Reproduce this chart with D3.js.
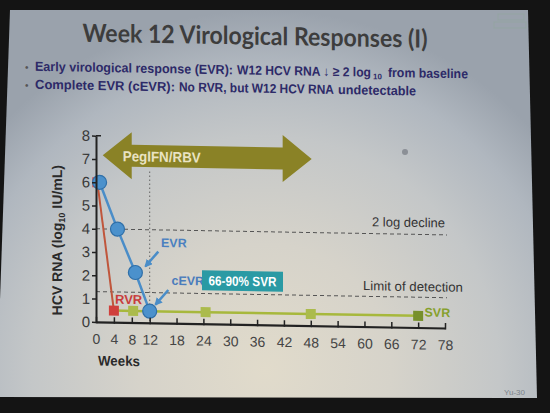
<!DOCTYPE html>
<html><head><meta charset="utf-8">
<script src="https://cdn.jsdelivr.net/npm/d3@7"></script>
<style>html,body{margin:0;padding:0;background:#141414;}svg{display:block;}</style>
</head><body>
<svg id="c" width="550" height="413"></svg>
<script>
// ---- data ----
const titleText = "Week 12 Virological Responses (I)";
const bullet1 = ["Early virological response (EVR):", "W12 HCV RNA \u2193 \u2265 2 log", "10", "from baseline"];
const bullet2 = ["Complete EVR (cEVR):", "No RVR, but W12 HCV RNA", "undetectable"];
const xTicks = [0, 4, 8, 12, 18, 24, 30, 36, 42, 48, 54, 60, 66, 72, 78];
const yTicks = [0, 1, 2, 3, 4, 5, 6, 7, 8];
const blueWeeks = [0.8, 4.8, 8.8, 12];
const blueValues = [6, 4, 2.15, 0.5];
const redWeeks = [0.3, 4];
const redValues = [6, 0.5];
const greenWeeks = [4, 8.3, 24.5, 48, 72];
const greenValues = [0.5, 0.5, 0.5, 0.5, 0.5];
const thresholdLabels = ["2 log decline", "Limit of detection"];
const thresholdValues = [4, 1.3];
const treatmentSpan = [1.5, 48.2];
const treatmentLevel = 7.16;
const treatmentLabel = "PegIFN/RBV";
const markerWeek = 12;
const markerTop = 6.5;

const svg = d3.select("#c");
const defs = svg.append("defs");
const rg = defs.append("radialGradient").attr("id", "bg")
  .attr("gradientUnits", "userSpaceOnUse").attr("cx", 265).attr("cy", 370).attr("r", 360);
[[0, "#e1dbcb"], [0.35, "#d6d3ca"], [0.65, "#c4c7c8"], [0.85, "#b0b7bf"], [1, "#9aa2ac"]]
  .forEach(s => rg.append("stop").attr("offset", s[0]).attr("stop-color", s[1]));
defs.append("marker").attr("id", "ah").attr("viewBox", "0 0 10 10").attr("refX", 8).attr("refY", 5)
  .attr("markerWidth", 3.2).attr("markerHeight", 3.2).attr("orient", "auto")
  .append("path").attr("d", "M0,0 L10,5 L0,10 Z").attr("fill", "#4a8dc8");

// slide
svg.append("rect").attr("width", 550).attr("height", 413).attr("fill", "#141414");
svg.append("path").attr("d", "M10,10 L528,10 L537,398 L0,397 L0,300 Z").attr("fill", "url(#bg)");

const g = svg.append("g").attr("transform", "translate(275,210) skewY(1) translate(-275,-210)");

// small details
svg.append("circle").attr("cx", 405).attr("cy", 152).attr("r", 3).attr("fill", "#5a5e68").attr("opacity", 0.5);
svg.append("text").attr("x", 525).attr("y", 395).attr("text-anchor", "end")
  .attr("font-family", "Liberation Sans").attr("font-size", 8).attr("fill", "#7c838b").text("Yu-30");
const logo = svg.append("g").attr("opacity", 0.55);
logo.append("rect").attr("x", 498).attr("y", 14).attr("width", 26).attr("height", 6).attr("fill", "none").attr("stroke", "#8fa69a");
logo.append("rect").attr("x", 494).attr("y", 22).attr("width", 32).attr("height", 6).attr("fill", "none").attr("stroke", "#8fa69a");

// title
g.append("text").attr("x", 255).attr("y", 45).attr("text-anchor", "middle")
  .attr("font-family", "Lato").attr("font-weight", "bold").attr("font-size", 25)
  .attr("fill", "#3d3d3d").attr("textLength", 345).attr("lengthAdjust", "spacingAndGlyphs").text(titleText);

// bullets (split in chunks; layout kept separate from the text)
const bt = (t, xx, yy, size, len) => {
  const e = g.append("text").attr("x", xx).attr("y", yy).attr("font-family", "Liberation Sans")
    .attr("font-weight", "bold").attr("font-size", size).attr("fill", "#2d2a68").text(t);
  if (len) e.attr("textLength", len).attr("lengthAdjust", "spacingAndGlyphs");
  return e;
};
[75, 93].forEach(yy => g.append("text").attr("x", 25).attr("y", yy).attr("font-family", "Liberation Sans")
  .attr("font-size", 10).attr("fill", "#555").text("\u2022"));
const l1 = [[35, 75, 13, 198], [237, 75, 13, 134], [373, 77.5, 8, null], [388, 75, 13, 80]];
const l2 = [[35, 93, 13, 140], [179, 93, 13, 155], [338, 93, 13, 78]];
bullet1.forEach((t, i) => bt(t, ...l1[i]));
bullet2.forEach((t, i) => bt(t, ...l2[i]));

// scales
const x = d3.scaleLinear().domain([0, 78]).range([96, 445]);
const y = d3.scaleLinear().domain([0, 8]).range([325, 138.8]);

// treatment arrow
{
  const xl = x(treatmentSpan[0]), xr = x(treatmentSpan[1]), cy = y(treatmentLevel);
  const h = 29, bh = 11, hh = 23.5;
  const pts = [[xl, cy], [xl + h, cy - hh], [xl + h, cy - bh], [xr - h, cy - bh], [xr - h, cy - hh], [xr, cy],
    [xr - h, cy + hh], [xr - h, cy + bh], [xl + h, cy + bh], [xl + h, cy + hh]];
  g.append("path").attr("d", d3.line()(pts) + "Z").attr("fill", "#8a8226");
  g.append("text").attr("x", xl + 20).attr("y", cy + 5.5).attr("font-family", "Liberation Sans")
    .attr("font-weight", "bold").attr("font-size", 14.5).attr("fill", "#e9e3c3")
    .attr("textLength", 78).attr("lengthAdjust", "spacingAndGlyphs").text(treatmentLabel);
}

// thresholds
thresholdValues.forEach((v, i) => {
  g.append("line").attr("x1", x(0)).attr("x2", x(78) + 2).attr("y1", y(v)).attr("y2", y(v))
    .attr("stroke", "#555").attr("stroke-width", 1).attr("stroke-dasharray", "4,3");
});
g.append("text").attr("x", 372).attr("y", 224.5).attr("font-family", "Liberation Sans").attr("font-size", 13)
  .attr("fill", "#333").attr("textLength", 73).attr("lengthAdjust", "spacingAndGlyphs").text(thresholdLabels[0]);
g.append("text").attr("x", 363).attr("y", 288.6).attr("font-family", "Liberation Sans").attr("font-size", 13)
  .attr("fill", "#333").attr("textLength", 100).attr("lengthAdjust", "spacingAndGlyphs").text(thresholdLabels[1]);

// week 12 marker
g.append("line").attr("x1", x(markerWeek)).attr("x2", x(markerWeek)).attr("y1", y(markerTop)).attr("y2", y(0))
  .attr("stroke", "#666").attr("stroke-width", 1).attr("stroke-dasharray", "1.5,2.5");

// lines
const line = d3.line().x(d => x(d[0])).y(d => y(d[1]));
g.append("path").attr("d", line(d3.zip(greenWeeks, greenValues))).attr("fill", "none")
  .attr("stroke", "#a7b83c").attr("stroke-width", 2.5);
g.append("path").attr("d", line(d3.zip(redWeeks, redValues))).attr("fill", "none")
  .attr("stroke", "#c0563c").attr("stroke-width", 2);
g.append("rect").attr("x", x(redWeeks[0]) - 5).attr("y", y(redValues[0]) - 5).attr("width", 10).attr("height", 10).attr("fill", "#d0403c");
g.append("path").attr("d", line(d3.zip(blueWeeks, blueValues))).attr("fill", "none")
  .attr("stroke", "#4a8dc8").attr("stroke-width", 2.5);

// green squares
greenWeeks.slice(1).forEach((w, i) => {
  const last = i === greenWeeks.length - 2;
  g.append("rect").attr("x", x(w) - 5).attr("y", y(greenValues[i + 1]) - 5).attr("width", 10).attr("height", 10)
    .attr("fill", last ? "#77902c" : "#abbb4c");
});
// red end square
g.append("rect").attr("x", x(redWeeks[1]) - 5).attr("y", y(redValues[1]) - 5).attr("width", 10).attr("height", 10).attr("fill", "#d0403c");
// blue circles
blueWeeks.forEach((w, i) => {
  g.append("circle").attr("cx", x(w)).attr("cy", y(blueValues[i])).attr("r", 7)
    .attr("fill", "#4b91cc").attr("stroke", "#2f6fa8").attr("stroke-width", 1.2);
});

// annotations
const lab = (t, xx, yy, col, size) => g.append("text").attr("x", xx).attr("y", yy).attr("font-family", "Liberation Sans")
  .attr("font-weight", "bold").attr("font-size", size || 13).attr("fill", col).text(t);
lab("EVR", 161, 249, "#4a80c0", 12.5);
lab("cEVR", 171.5, 286.6, "#4a7cbc", 12.5);
lab("RVR", 115, 306.6, "#c83c3c", 13);
lab("SVR", 424.5, 314, "#86a02c", 12.5);
g.append("line").attr("x1", 158.3).attr("y1", 253.7).attr("x2", 145.5).attr("y2", 268.5)
  .attr("stroke", "#4a8dc8").attr("stroke-width", 2.5).attr("marker-end", "url(#ah)");
g.append("line").attr("x1", 168.3).attr("y1", 291.9).attr("x2", 155.5).attr("y2", 306.7)
  .attr("stroke", "#4a8dc8").attr("stroke-width", 2.5).attr("marker-end", "url(#ah)");
g.append("rect").attr("x", 202).attr("y", 271.5).attr("width", 81).attr("height", 20).attr("fill", "#2a9aa4");
g.append("text").attr("x", 242.5).attr("y", 286.5).attr("text-anchor", "middle").attr("font-family", "Liberation Sans")
  .attr("font-weight", "bold").attr("font-size", 13.5).attr("fill", "#ffffff")
  .attr("textLength", 68).attr("lengthAdjust", "spacingAndGlyphs").text("66-90% SVR");

// axes
const yAxis = g.append("g").attr("transform", `translate(${x(0)},0)`)
  .call(d3.axisLeft(y).tickValues(yTicks).tickSizeInner(4).tickSizeOuter(0).tickPadding(2));
yAxis.select(".domain").attr("stroke", "#222").attr("stroke-width", 2);
yAxis.selectAll(".tick line").attr("stroke", "#222").attr("stroke-width", 1.5);
yAxis.selectAll("text").attr("font-family", "Liberation Sans").attr("font-size", 15).attr("fill", "#3a3a3a");
g.append("line").attr("x1", x(0)).attr("x2", x(0) + 5).attr("y1", y(8)).attr("y2", y(8)).attr("stroke", "#222").attr("stroke-width", 1.5);

const xAxis = g.append("g").attr("transform", `translate(0,${y(0)})`)
  .call(d3.axisBottom(x).tickValues(xTicks).tickSizeInner(-5).tickSizeOuter(0).tickPadding(12));
xAxis.select(".domain").attr("stroke", "#222").attr("stroke-width", 2.2);
xAxis.selectAll(".tick line").attr("stroke", "#222").attr("stroke-width", 1.5).attr("y2", -5).attr("y1", 1.5);
xAxis.selectAll("text").attr("font-family", "Liberation Sans").attr("font-size", 14).attr("fill", "#444");

g.append("text").attr("x", 98).attr("y", 368.5).attr("font-family", "Liberation Sans").attr("font-weight", "bold")
  .attr("font-size", 14).attr("fill", "#2a2a2a").attr("textLength", 42).attr("lengthAdjust", "spacingAndGlyphs").text("Weeks");

// y label
const yl = g.append("text").attr("transform", "translate(62,244) rotate(-90)").attr("text-anchor", "middle")
  .attr("font-family", "Liberation Sans").attr("font-weight", "bold").attr("font-size", 14).attr("fill", "#2a2a2a");
yl.append("tspan").text("HCV RNA (log");
yl.append("tspan").attr("font-size", 9).attr("dy", 3).text("10");
yl.append("tspan").attr("dy", -3).text(" IU/mL)");
</script>
</body></html>
